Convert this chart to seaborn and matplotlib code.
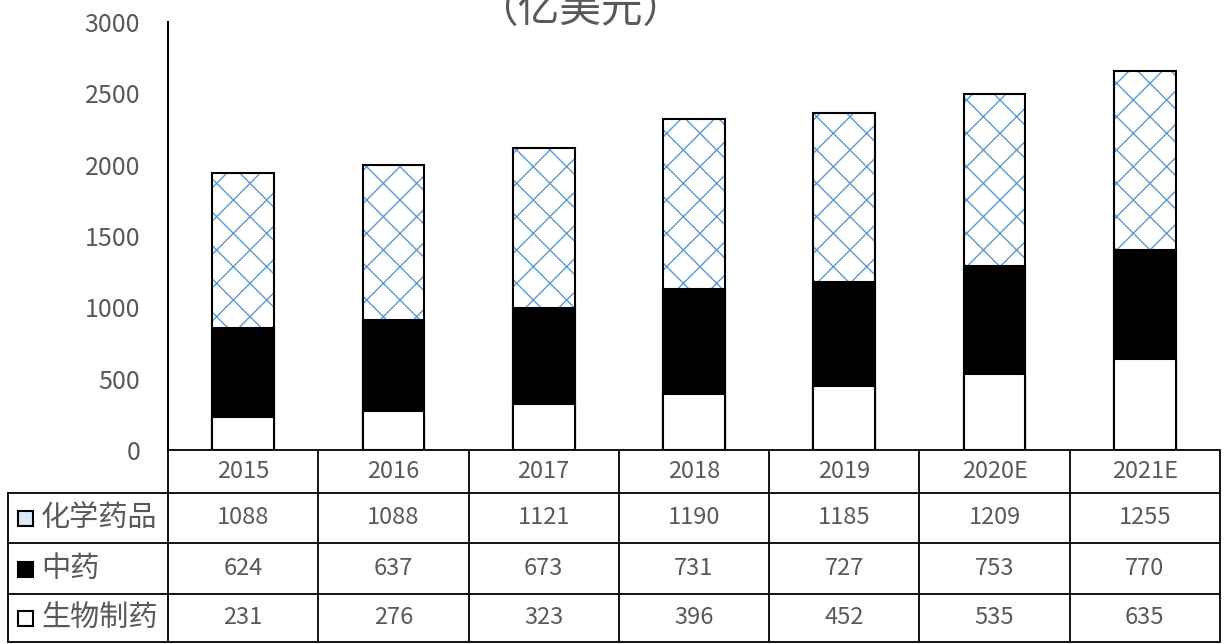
import numpy as np
import pandas as pd
import matplotlib
matplotlib.use('Agg')
import matplotlib.pyplot as plt
import seaborn as sns
from matplotlib.patches import Rectangle

# data (亿美元)
years = ['2015', '2016', '2017', '2018', '2019', '2020E', '2021E']
chem = [1088, 1088, 1121, 1190, 1185, 1209, 1255]   # 化学药品
tcm = [624, 637, 673, 731, 727, 753, 770]           # 中药
bio = [231, 276, 323, 396, 452, 535, 635]           # 生物制药
row_names = ['化学药品', '中药', '生物制药']

df = pd.DataFrame({'year': years, 'chem': chem, 'tcm': tcm, 'bio': bio})
df['mid'] = df['tcm'] + df['bio']
df['total'] = df['mid'] + df['chem']

sns.set_theme(style='white')
plt.rcParams['font.family'] = ['Noto Sans CJK SC', 'DejaVu Sans']
plt.rcParams['hatch.linewidth'] = 1.0

GREY = '#595959'
BLUE = '#5b9bd5'

# layout in pixels
W, H = 1224, 644
L, R, TOP, BOT = 168, 1220, 22, 450

fig = plt.figure(figsize=(12.24, 6.44), dpi=100)
ax = fig.add_axes([L / W, 1 - BOT / H, (R - L) / W, (BOT - TOP) / H])

# stacked bars drawn as overlapping cumulative totals
sns.barplot(data=df, x='year', y='total', color='white', width=0.41,
            saturation=1, errorbar=None, linewidth=0, ax=ax)
for p in ax.patches:
    p.set_hatch('x')
    p.set_edgecolor(BLUE)
    p.set_linewidth(0)
n = len(ax.patches)
sns.barplot(data=df, x='year', y='total', color='black', width=0.41,
            saturation=1, errorbar=None, ax=ax)
for p in ax.patches[n:]:
    p.set_facecolor('none')
    p.set_edgecolor('black')
    p.set_linewidth(1.5)
sns.barplot(data=df, x='year', y='mid', color='black', width=0.41,
            saturation=1, errorbar=None, edgecolor='black', linewidth=1.5, ax=ax)
sns.barplot(data=df, x='year', y='bio', color='white', width=0.41,
            saturation=1, errorbar=None, edgecolor='black', linewidth=1.5, ax=ax)

ax.set_xlim(-0.5, 6.5)
ax.set_ylim(0, 3000)
ax.set_yticks(range(0, 3001, 500))
ax.set_xticks([])
ax.set_xlabel('')
ax.set_ylabel('')
ax.tick_params(axis='y', length=0, pad=20, labelsize=18, labelcolor=GREY)
for s in ['top', 'right', 'bottom']:
    ax.spines[s].set_visible(False)
ax.spines['left'].set_color('black')
ax.spines['left'].set_linewidth(1.5)

# title sits partly above the top edge, as in the reference
fig.text(580 / W, 1 - 10 / H, '（亿美元）', ha='center', va='center',
         fontsize=30, color=GREY)

# data table under the bars
tax = fig.add_axes([0, 0, 1, 1])
tax.set_xlim(0, W)
tax.set_ylim(H, 0)
tax.axis('off')

cols = [L + i * (R - L) / 7 for i in range(8)]
rows = [BOT, 493, 543, 594, 642]
lw = 1.3
tax.plot([L, R], [BOT, BOT], color='black', lw=lw)
for y in rows[1:]:
    tax.plot([8, R], [y, y], color='black', lw=lw)
for x in cols:
    tax.plot([x, x], [BOT, rows[-1]], color='black', lw=lw)
tax.plot([8, 8], [rows[1], rows[-1]], color='black', lw=lw)

centers = [(cols[i] + cols[i + 1]) / 2 for i in range(7)]
for c, yr in zip(centers, years):
    tax.text(c, (rows[0] + rows[1]) / 2, yr, ha='center', va='center',
             fontsize=17, color=GREY)

series = [chem, tcm, bio]
marker_faces = ['#dce9f6', 'black', 'white']
for r, (name, vals, face) in enumerate(zip(row_names, series, marker_faces)):
    yc = (rows[r + 1] + rows[r + 2]) / 2
    tax.add_patch(Rectangle((18, yc - 7), 15, 15, facecolor=face,
                            edgecolor='black', lw=1.5))
    tax.text(41, yc, name, ha='left', va='center', fontsize=21, color=GREY)
    for c, v in zip(centers, vals):
        tax.text(c, yc, str(v), ha='center', va='center', fontsize=17, color=GREY)

fig.savefig('out.png', dpi=100)
